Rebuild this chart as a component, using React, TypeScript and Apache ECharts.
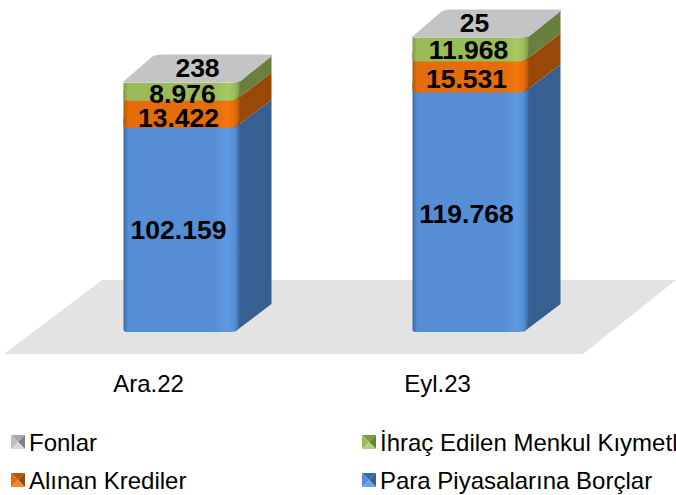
import React, { useEffect, useRef } from "react";
import * as echarts from "echarts";

const categories = ["Ara.22", "Eyl.23"];
const paraPiyasalari = [102159, 119768];
const alinanKrediler = [13422, 15531];
const ihracEdilen = [8976, 11968];
const fonlar = [238, 25];

const seriesNames = ["Para Piyasalarına Borçlar", "Alınan Krediler", "İhraç Edilen Menkul Kıymetler", "Fonlar"];
const seriesValues = [paraPiyasalari, alinanKrediler, ihracEdilen, fonlar];

const looks = [
  { edge: "#3A6AA6", mid: "#558ED5", hi: "#5F9BE2", side: "#375F91", top: "#558ED5", light: "#6FA3E0" },
  { edge: "#B55506", mid: "#E46C0A", hi: "#F5760C", side: "#984807", top: "#E46C0A", light: "#F08A30" },
  { edge: "#7E9A46", mid: "#9BBB59", hi: "#A7C960", side: "#6A7F3E", top: "#9BBB59", light: "#B5D07A" },
  { edge: "#A6A6A6", mid: "#BFBFBF", hi: "#C8C8C8", side: "#7F7F7F", top: "#C4C4C4", light: "#D9D9D9" },
];
const labelNudge = [
  [[-3, 0], [-4, 2]],
  [[-3, 4], [-4, 2]],
  [[1, 2], [-2, 1]],
  [[16, -15], [4, -14]],
];

const BAR_W = 116;
const OFFSET = 33;
const DX = 32;
const DY = 28;
const R = 10;

function legendIcon(l: (typeof looks)[number]) {
  const svg = `<svg xmlns="http://www.w3.org/2000/svg" width="14" height="14"><polygon points="0,0 14,0 7,7" fill="${l.edge}"/><polygon points="14,0 14,14 7,7" fill="${l.side}"/><polygon points="0,14 14,14 7,7" fill="${l.light}"/><polygon points="0,0 0,14 7,7" fill="${l.mid}"/></svg>`;
  return "image://data:image/svg+xml;charset=utf-8," + encodeURIComponent(svg);
}

const legendPlaces = [
  { name: "Fonlar", look: 3, left: 11, top: 430 },
  { name: "İhraç Edilen Menkul Kıymetler", look: 2, left: 362, top: 430 },
  { name: "Alınan Krediler", look: 1, left: 11, top: 468 },
  { name: "Para Piyasalarına Borçlar", look: 0, left: 362, top: 468 },
];

function makeSeries(si: number) {
  const look = looks[si];
  const isTop = si === seriesNames.length - 1;
  return {
    type: "custom",
    name: seriesNames[si],
    coordinateSystem: "cartesian2d",
    clip: false,
    z: 2 + si,
    data: categories.map((c, i) => {
      let base = 0;
      for (let k = 0; k < si; k++) base += seriesValues[k][i];
      return [i, base, base + seriesValues[si][i]];
    }),
    encode: { x: 0, y: [1, 2] },
    renderItem: (_p: any, api: any) => {
      const idx = api.value(0);
      const y0 = api.coord([idx, api.value(1)]);
      const y1 = api.coord([idx, api.value(2)]);
      const xl = y0[0] + OFFSET - BAR_W / 2;
      const xr = xl + BAR_W;
      const bot = y0[1];
      const top = y1[1];
      const ext = si < 2 ? R : 0;
      const grad = {
        type: "linear", x: 0, y: 0, x2: 1, y2: 0,
        colorStops: [
          { offset: 0, color: look.edge },
          { offset: 0.04, color: look.mid },
          { offset: 0.78, color: look.mid },
          { offset: 0.9, color: look.hi },
          { offset: 0.96, color: look.mid },
          { offset: 1, color: look.edge },
        ],
      };
      const r = isTop ? 0 : R;
      const front = `M${xl} ${top - ext}L${xr} ${top - ext}L${xr} ${bot - r}Q${xr} ${bot} ${xr - r} ${bot}L${xl + 3} ${bot}Q${xl} ${bot} ${xl} ${bot - 3}Z`;
      const children: any[] = [
        {
          type: "polygon",
          shape: { points: [[xr - 5, bot], [xr + DX, bot - DY], [xr + DX, top - DY], [xr - 5, top]] },
          style: { fill: look.side },
        },
        { type: "path", shape: { pathData: front }, style: { fill: grad } },
      ];
      if (isTop) {
        const t = top;
        const d = `M${xl} ${t - 1}L${xl + DX - 3} ${t - DY + 2}Q${xl + DX} ${t - DY} ${xl + DX + 6} ${t - DY}L${xr + DX - 2} ${t - DY}Q${xr + DX} ${t - DY} ${xr + DX} ${t - DY + 2}L${xr + 2} ${t - 2}Q${xr} ${t} ${xr - 6} ${t}L${xl + 3} ${t}Q${xl} ${t} ${xl} ${t - 1}Z`;
        children.push({ type: "path", shape: { pathData: d }, style: { fill: look.top } });
      }
      const n = labelNudge[si][idx];
      children.push({
        type: "text",
        x: (xl + xr) / 2 + n[0],
        y: (top + bot) / 2 + n[1],
        style: {
          text: seriesValues[si][idx].toLocaleString("de-DE"),
          fill: "#000",
          font: 'bold 26.5px "Liberation Sans", Arial, sans-serif',
          align: "center",
          verticalAlign: "middle",
        },
      });
      return { type: "group", children };
    },
  };
}

export default function App() {
  const ref = useRef<HTMLDivElement>(null);
  useEffect(() => {
    const chart = echarts.init(ref.current!, undefined, { renderer: "svg" });
    chart.setOption({
      animation: false,
      backgroundColor: "#fff",
      grid: { left: 4, width: 578, top: 32, height: 300 },
      xAxis: {
        type: "category",
        data: categories,
        axisLine: { show: false },
        axisTick: { show: false },
        axisLabel: { margin: 39, color: "#000", fontSize: 24, fontFamily: '"Liberation Sans", Arial, sans-serif' },
      },
      yAxis: { type: "value", min: 0, max: 150000, show: false, splitLine: { show: false } },
      legend: legendPlaces.map((p) => ({
        left: p.left,
        top: p.top,
        padding: 0,
        selectedMode: false,
        itemWidth: 14,
        itemHeight: 14,
        itemGap: 0,
        textStyle: { color: "#000", fontSize: 24, padding: [0, 0, 0, -1], fontFamily: '"Liberation Sans", Arial, sans-serif' },
        data: [{ name: p.name, icon: legendIcon(looks[p.look]) }],
      })),
      graphic: [
        {
          type: "polygon",
          silent: true,
          z: 0,
          shape: { points: [[4, 354], [102, 280], [676, 280], [583, 354]] },
          style: { fill: "#E3E3E3" },
        },
      ],
      series: seriesNames.map((_, i) => makeSeries(i)),
    });
    return () => chart.dispose();
  }, []);
  return <div ref={ref} style={{ width: 676, height: 495, position: "fixed", left: 0, top: 0, overflow: "hidden" }} />;
}
